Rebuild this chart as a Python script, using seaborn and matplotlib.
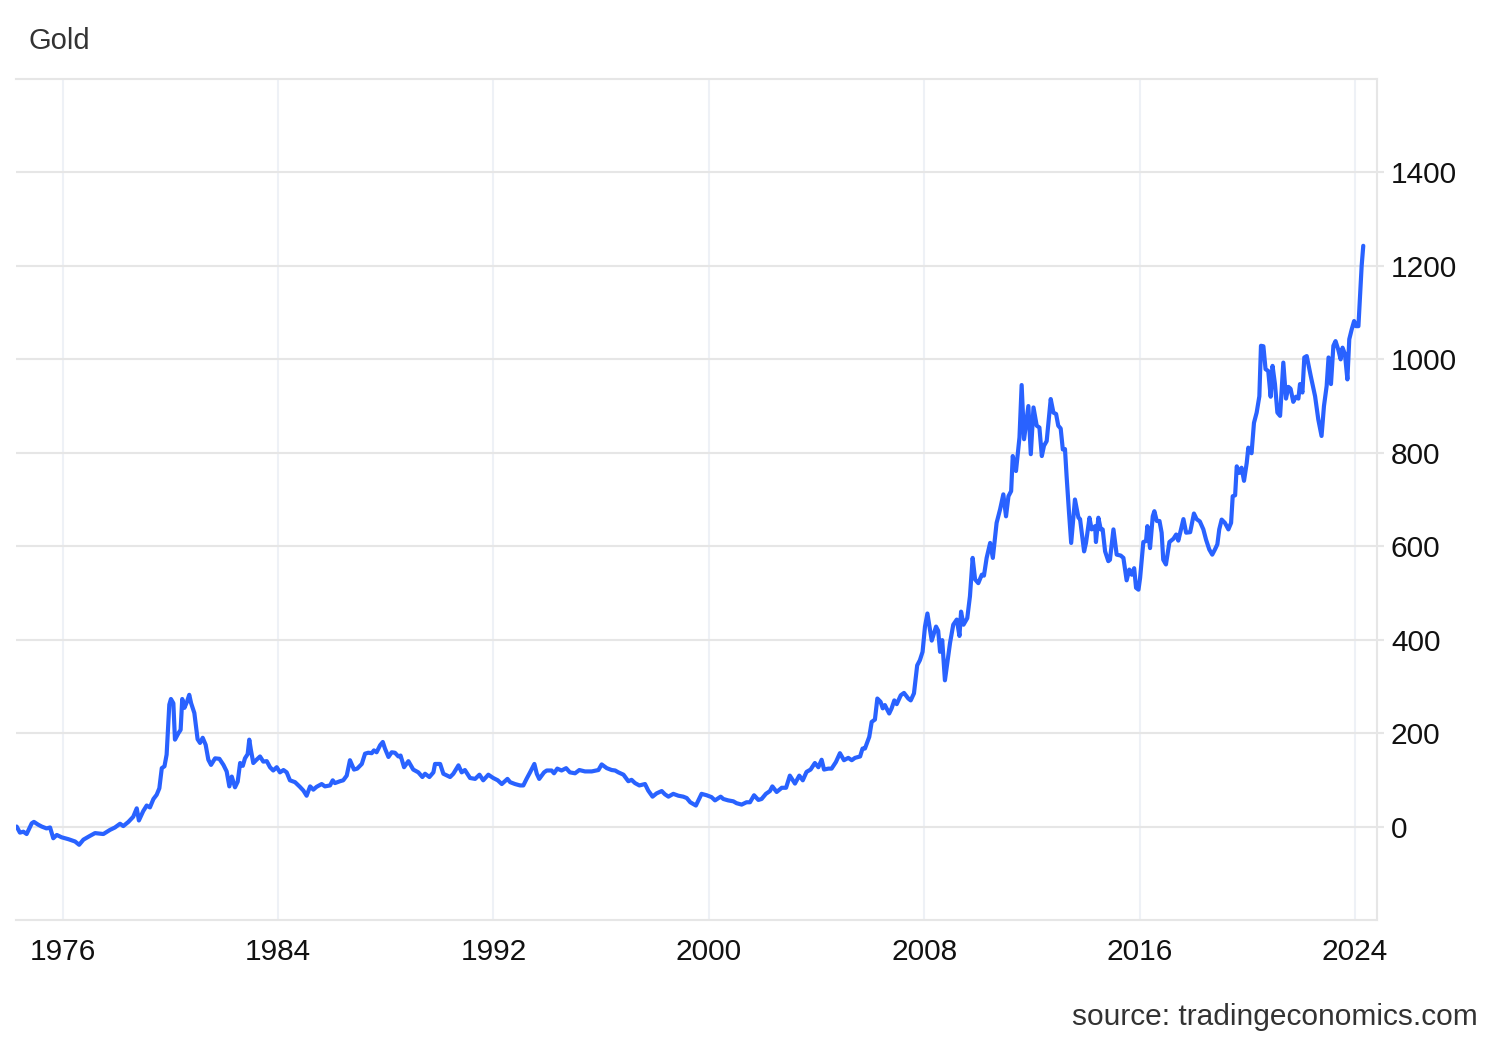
import matplotlib
matplotlib.use("Agg")
import matplotlib.pyplot as plt
import seaborn as sns
import pandas as pd

years = [
    1974.29, 1974.41, 1974.54, 1974.66, 1974.85, 1974.93, 1975.09, 1975.22, 1975.40, 1975.53,
    1975.65, 1975.78, 1975.96, 1976.21, 1976.46, 1976.61, 1976.77, 1977.01, 1977.20, 1977.51,
    1977.76, 1977.94, 1978.13, 1978.25, 1978.44, 1978.62, 1978.75, 1978.83, 1978.99, 1979.12,
    1979.24, 1979.37, 1979.49, 1979.59, 1979.68, 1979.78, 1979.86, 1979.96, 1980.02, 1980.11,
    1980.17, 1980.30, 1980.38, 1980.44, 1980.52, 1980.61, 1980.70, 1980.77, 1980.89, 1981.01,
    1981.10, 1981.20, 1981.31, 1981.41, 1981.51, 1981.66, 1981.82, 1981.97, 1982.09, 1982.19,
    1982.28, 1982.40, 1982.50, 1982.59, 1982.69, 1982.77, 1982.87, 1982.93, 1982.99, 1983.08,
    1983.20, 1983.33, 1983.45, 1983.58,
    1983.70, 1983.82, 1983.95, 1984.07, 1984.20, 1984.32, 1984.44, 1984.63, 1984.81, 1984.94,
    1985.06, 1985.19, 1985.31, 1985.43, 1985.62, 1985.74, 1985.93, 1986.03, 1986.11, 1986.30,
    1986.42, 1986.55, 1986.67, 1986.82, 1986.94, 1987.11, 1987.23, 1987.35, 1987.48, 1987.56,
    1987.66, 1987.79, 1987.89, 1987.97, 1988.10, 1988.22, 1988.34, 1988.47, 1988.55, 1988.68,
    1988.84, 1989.02, 1989.21, 1989.36, 1989.46, 1989.62, 1989.77, 1989.83, 1990.02, 1990.14,
    1990.39, 1990.51, 1990.70, 1990.82, 1990.94, 1991.13, 1991.32, 1991.48, 1991.62, 1991.81,
    1991.99, 1992.16, 1992.31, 1992.52, 1992.62, 1992.80, 1992.99, 1993.11, 1993.23, 1993.36,
    1993.52, 1993.61, 1993.70, 1993.88, 1993.98, 1994.16, 1994.25, 1994.37, 1994.53, 1994.70,
    1994.84, 1995.03, 1995.19, 1995.40, 1995.65, 1995.90, 1996.02, 1996.21, 1996.39, 1996.52,
    1996.64, 1996.83, 1997.01, 1997.13, 1997.26, 1997.42, 1997.63, 1997.75, 1997.91, 1998.06,
    1998.25, 1998.37, 1998.50, 1998.68, 1998.87, 1999.05, 1999.18, 1999.31, 1999.52,
    1999.73, 1999.92, 2000.10, 2000.23, 2000.44, 2000.54, 2000.72, 2000.91, 2001.03, 2001.22,
    2001.40, 2001.53, 2001.68, 2001.84, 2001.96, 2002.12, 2002.27, 2002.36, 2002.52, 2002.71,
    2002.87, 2003.01, 2003.20, 2003.36, 2003.49, 2003.63, 2003.78, 2003.94, 2004.07, 2004.19,
    2004.28, 2004.44, 2004.56, 2004.72, 2004.87, 2005.02, 2005.18, 2005.31, 2005.43, 2005.62,
    2005.71, 2005.80, 2005.96, 2006.05, 2006.17, 2006.26, 2006.38, 2006.46, 2006.54, 2006.70,
    2006.79, 2006.89, 2006.98, 2007.13, 2007.25, 2007.41, 2007.50, 2007.62, 2007.74, 2007.84,
    2007.94, 2008.03, 2008.12, 2008.28, 2008.44, 2008.52, 2008.59, 2008.67, 2008.77,
    2008.96, 2009.08, 2009.21, 2009.31, 2009.37, 2009.46, 2009.60, 2009.70, 2009.80, 2009.89,
    2010.01, 2010.14, 2010.22, 2010.32, 2010.45, 2010.55, 2010.69, 2010.82, 2010.94, 2011.04,
    2011.13, 2011.23, 2011.29, 2011.41, 2011.54, 2011.62, 2011.71, 2011.87, 2011.96, 2012.06,
    2012.18, 2012.28, 2012.37, 2012.45, 2012.55, 2012.70, 2012.80, 2012.90, 2012.98, 2013.07,
    2013.15, 2013.23, 2013.29, 2013.38, 2013.46, 2013.60, 2013.73, 2013.79, 2013.94, 2014.01,
    2014.14, 2014.22, 2014.35, 2014.38, 2014.47, 2014.56, 2014.63, 2014.72, 2014.84, 2014.90,
    2015.03, 2015.15, 2015.30, 2015.40, 2015.52, 2015.62, 2015.71, 2015.80, 2015.87, 2015.96,
    2016.02, 2016.14, 2016.24, 2016.29, 2016.39, 2016.49, 2016.55, 2016.64, 2016.74, 2016.82,
    2016.88, 2016.98, 2017.11, 2017.26, 2017.36, 2017.44, 2017.63, 2017.73, 2017.88, 2018.02,
    2018.12, 2018.24, 2018.37, 2018.47, 2018.59, 2018.70, 2018.80, 2018.89, 2018.96, 2019.05,
    2019.17, 2019.30, 2019.40, 2019.46, 2019.55, 2019.61, 2019.71, 2019.79, 2019.88, 2019.98,
    2020.04, 2020.16, 2020.25, 2020.35, 2020.45, 2020.51, 2020.60, 2020.68, 2020.78, 2020.87,
    2020.94, 2021.03, 2021.12, 2021.22, 2021.34, 2021.44, 2021.53, 2021.61, 2021.71, 2021.81,
    2021.90, 2021.96, 2022.05, 2022.12, 2022.21, 2022.36, 2022.52, 2022.64, 2022.76, 2022.85,
    2022.95, 2023.02, 2023.11, 2023.20, 2023.28, 2023.38, 2023.47, 2023.54, 2023.63, 2023.72,
    2023.79, 2023.88, 2023.97, 2024.04, 2024.13, 2024.19, 2024.25, 2024.31,
]

gold = [
    0, -13, -11, -16, 7, 10, 4, 0, -4, -2,
    -25, -18, -23, -27, -32, -39, -28, -20, -14, -16,
    -7, -2, 6, 1, 10, 21, 39, 13, 33, 45,
    41, 59, 68, 82, 125, 129, 154, 261, 273, 264,
    186, 200, 207, 273, 254, 266, 282, 264, 243, 187,
    179, 190, 175, 143, 132, 146, 145, 132, 118, 86,
    107, 84, 96, 136, 130, 146, 155, 186, 164, 136,
    143, 150, 139, 140,
    127, 120, 127, 116, 121, 116, 99, 95, 85, 77,
    66, 86, 79, 85, 91, 86, 88, 99, 93, 97,
    99, 109, 142, 122, 124, 134, 156, 158, 157, 163,
    159, 174, 181, 167, 149, 159, 158, 150, 152, 127,
    140, 122, 116, 106, 113, 106, 116, 134, 134, 113,
    106, 113, 131, 116, 121, 104, 102, 111, 99, 111,
    104, 99, 91, 102, 95, 91, 88, 88, 102, 116,
    134, 113, 102, 116, 120, 120, 114, 124, 120, 125,
    116, 114, 121, 118, 118, 121, 133, 125, 121, 120,
    116, 111, 97, 100, 93, 88, 91, 77, 64, 71,
    76, 69, 64, 70, 66, 64, 61, 52, 45,
    70, 67, 63, 56, 64, 59, 56, 54, 50, 47,
    52, 52, 67, 57, 59, 70, 76, 86, 74, 83,
    83, 109, 92, 109, 99, 117, 122, 136, 127, 143,
    122, 124, 124, 138, 157, 142, 147, 142, 147, 150,
    167, 167, 192, 224, 229, 274, 267, 253, 260, 242,
    253, 270, 262, 281, 286, 274, 270, 285, 345, 356,
    374, 428, 456, 398, 428, 419, 374, 399, 313,
    393, 432, 443, 408, 460, 432, 446, 493, 575, 529,
    521, 539, 537, 575, 607, 575, 650, 679, 711, 664,
    707, 718, 793, 761, 833, 945, 829, 900, 797, 897,
    858, 854, 793, 815, 825, 915, 886, 883, 858, 852,
    807, 808, 750, 672, 607, 700, 661, 658, 589, 607,
    661, 636, 643, 609, 661, 636, 636, 589, 568, 571,
    636, 582, 580, 575, 527, 550, 539, 553, 511, 507,
    532, 609, 611, 643, 596, 664, 675, 654, 654, 629,
    571, 561, 609, 616, 625, 612, 658, 629, 630, 670,
    658, 653, 636, 614, 593, 582, 593, 604, 636, 657,
    650, 636, 650, 707, 709, 771, 757, 768, 740, 778,
    811, 799, 864, 886, 921, 1029, 1028, 979, 975, 920,
    986, 947, 886, 879, 993, 916, 941, 937, 909, 920,
    916, 947, 929, 1004, 1007, 964, 921, 871, 836, 900,
    943, 1004, 947, 1029, 1039, 1021, 1000, 1025, 1011, 957,
    1043, 1064, 1082, 1071, 1071, 1136, 1200, 1243,
]

x_ticks = [1976, 1984, 1992, 2000, 2008, 2016, 2024]
x_tick_labels = [str(v) for v in x_ticks]
y_ticks = [0, 200, 400, 600, 800, 1000, 1200, 1400]
y_tick_labels = [str(v) for v in y_ticks]
title_text = "Gold"
source_text = "source: tradingeconomics.com"

sns.set_style("white")
plt.rcParams['font.family'] = ['Liberation Sans', 'DejaVu Sans']

W, H = 1500, 1040
fig = plt.figure(figsize=(W / 100, H / 100), dpi=100)
left, right, top, bottom = 16, 1377, 79, 920
ax = fig.add_axes([left / W, 1 - bottom / H, (right - left) / W, (bottom - top) / H])

df = pd.DataFrame({"year": years, "gold": gold})
sns.lineplot(data=df, x="year", y="gold", ax=ax, color="#2962ff",
             linewidth=3.0, zorder=3)

ax.set_xlim(1974.265, 2024.82)
ax.set_ylim(-200, 1600)
ax.set_xticks(x_ticks)
ax.set_xticklabels(x_tick_labels)
ax.set_yticks(y_ticks)
ax.set_yticklabels(y_tick_labels)
ax.yaxis.tick_right()
ax.set_xlabel("")
ax.set_ylabel("")

ax.grid(axis="y", color="#e6e6e6", linewidth=1.5, zorder=0)
ax.grid(axis="x", color="#eef1f6", linewidth=1.5, zorder=0)

ax.spines["left"].set_visible(False)
for side in ["top", "bottom", "right"]:
    ax.spines[side].set_visible(True)
    ax.spines[side].set_color("#e6e6e6")
    ax.spines[side].set_linewidth(1.5)

ax.tick_params(axis="y", which="both", right=True, left=False, length=5,
               width=1.5, color="#e6e6e6", pad=5, labelsize=21.5, labelcolor="#111111")
ax.tick_params(axis="x", length=0, pad=13, labelsize=21.5, labelcolor="#111111")

fig.text(29 / W, 1 - 41 / H, title_text, ha="left", va="center",
         fontsize=21, color="#333333")
fig.text(1478 / W, 1 - 1017 / H, source_text, ha="right", va="center",
         fontsize=21.5, color="#333333")

fig.savefig("out.png", dpi=100)
